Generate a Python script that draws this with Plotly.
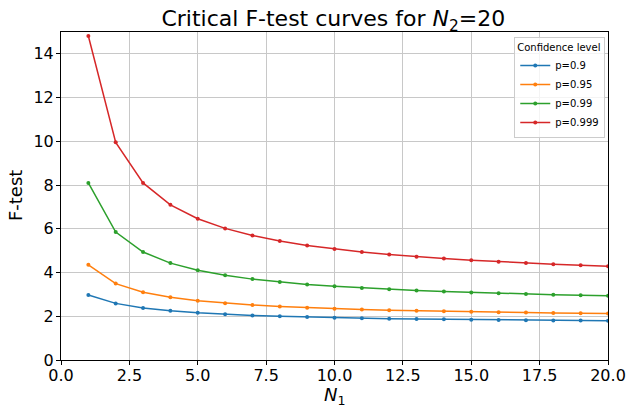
import plotly.graph_objects as go

n1 = list(range(1, 21))
p90 = [2.975, 2.589, 2.380, 2.249, 2.158, 2.091, 2.040, 1.999, 1.965, 1.937,
       1.913, 1.892, 1.874, 1.859, 1.845, 1.833, 1.822, 1.812, 1.803, 1.794]
p95 = [4.351, 3.493, 3.098, 2.866, 2.711, 2.599, 2.514, 2.447, 2.393, 2.348,
       2.310, 2.278, 2.250, 2.225, 2.203, 2.184, 2.167, 2.151, 2.137, 2.124]
p99 = [8.096, 5.849, 4.938, 4.431, 4.103, 3.871, 3.699, 3.564, 3.457, 3.368,
       3.294, 3.231, 3.177, 3.130, 3.088, 3.051, 3.018, 2.989, 2.963, 2.938]
p999 = [14.82, 9.953, 8.098, 7.096, 6.461, 6.019, 5.692, 5.440, 5.239, 5.075,
        4.939, 4.823, 4.724, 4.637, 4.562, 4.494, 4.434, 4.380, 4.331, 4.290]

x_ticks = [0, 2.5, 5, 7.5, 10, 12.5, 15, 17.5, 20]
x_ticktext = ["0.0", "2.5", "5.0", "7.5", "10.0", "12.5", "15.0", "17.5", "20.0"]
y_ticks = [0, 2, 4, 6, 8, 10, 12, 14]

series = [("p=0.9", p90, "#1f77b4"), ("p=0.95", p95, "#ff7f0e"),
          ("p=0.99", p99, "#2ca02c"), ("p=0.999", p999, "#d62728")]

fig = go.Figure()
for name, ys, col in series:
    fig.add_trace(go.Scatter(x=n1, y=ys, name=name, mode="lines+markers",
                             line=dict(color=col, width=1.5),
                             marker=dict(color=col, size=4)))

font = "DejaVu Sans, sans-serif"
axis_common = dict(showline=True, linecolor="black", linewidth=1, mirror=True,
                   ticks="outside", ticklen=4, tickcolor="black",
                   showgrid=True, gridcolor="#c8c8c8", gridwidth=0.8,
                   zeroline=False, automargin=False,
                   tickfont=dict(size=16, color="black", family=font))

fig.update_layout(
    width=629, height=406,
    margin=dict(l=61, r=21, t=32, b=46),
    paper_bgcolor="white", plot_bgcolor="white",
    font=dict(family=font, color="black"),
    title=dict(text="Critical F-test curves for <i>N</i><sub>2</sub>=20",
               x=0.53, xanchor="center", y=0.955, yanchor="middle",
               font=dict(size=22, family=font, color="black")),
    xaxis=dict(range=[0, 20], tickvals=x_ticks, ticktext=x_ticktext,
               ticklabelstandoff=-3, **axis_common),
    yaxis=dict(range=[0, 15], tickvals=y_ticks, ticklabelstandoff=-1, **axis_common),
    legend=dict(title=dict(text="Confidence level", font=dict(size=10)),
                font=dict(size=10), x=0.995, xanchor="right", y=0.985, yanchor="top",
                bgcolor="rgba(255,255,255,0.8)", bordercolor="#cccccc", borderwidth=1,
                itemwidth=30, tracegroupgap=0),
    showlegend=True,
    annotations=[
        dict(text="<i>N</i><sub>1</sub>", xref="paper", yref="paper", x=0.5, y=-0.11,
             xanchor="center", yanchor="middle", showarrow=False, font=dict(size=18)),
        dict(text="F-test", xref="paper", yref="paper", x=-0.084, y=0.5, textangle=-90,
             xanchor="center", yanchor="middle", showarrow=False, font=dict(size=18)),
    ],
)

fig.write_html("out.html", config={"displayModeBar": False},
               post_script="document.body.style.margin='0';document.body.style.overflow='hidden';")
